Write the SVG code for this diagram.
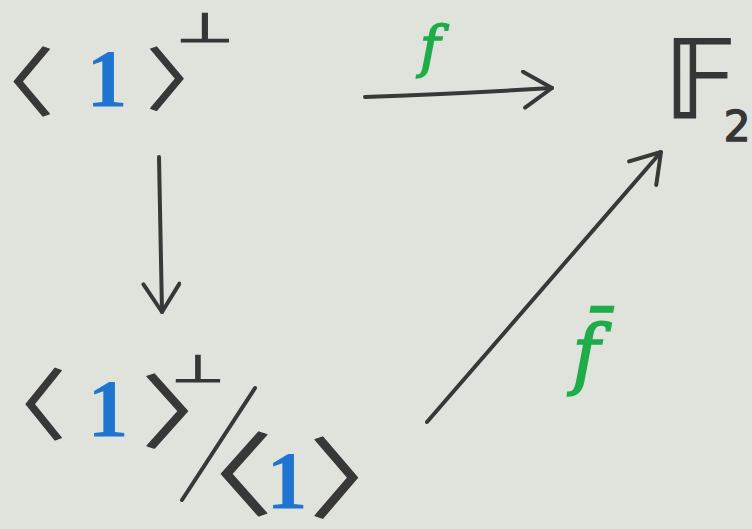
<svg xmlns="http://www.w3.org/2000/svg" width="752" height="529" viewBox="0 0 752 529">
<style>
.br{fill:#383838;font-family:"Noto Sans CJK JP",sans-serif;stroke:#383838;stroke-width:1.3;stroke-linejoin:round;font-feature-settings:"palt" 1}
.perp{fill:#363636;font-family:"DejaVu Sans",sans-serif;font-size:66px;stroke:#363636;stroke-width:2;text-anchor:middle}
.one{fill:#1f74d0;font-family:"Liberation Serif",serif;font-weight:bold;font-size:82px;text-anchor:middle}
.lab{fill:#1fac4a;font-family:"DejaVu Serif",serif;font-style:italic;text-anchor:middle;stroke:#1fac4a;stroke-width:1.5}
.edge{fill:none;stroke:#383838;stroke-width:4;stroke-linecap:round}
.head{fill:none;stroke:#383838;stroke-width:4;stroke-linecap:round;stroke-linejoin:round}
</style>
<defs>
<marker id="ah" viewBox="0 0 40 40" refX="38" refY="20" markerWidth="40" markerHeight="40" markerUnits="userSpaceOnUse" orient="auto">
<path class="head" d="M10,2 L38,20 L10,38"/>
</marker>
</defs>
<rect width="752" height="529" fill="#dfe3dc"/>
<g id="node-perp">
<text class="br" font-size="74" transform="translate(3.3,109) scale(1.31,1)">〈</text>
<text class="one" x="107" y="106">1</text>
<text class="br" font-size="68" transform="translate(148.5,104.6) scale(1.31,1)">〉</text>
<text class="perp" transform="translate(205,42) scale(1,0.62)">⊥</text>
</g>
<g id="node-F2">
<text x="700" y="118" fill="#363636" font-family="DejaVu Sans, sans-serif" font-size="108" text-anchor="middle" stroke="#363636" stroke-width="1.2">𝔽</text>
<text x="737" y="141" fill="#363636" font-family="DejaVu Sans, sans-serif" font-size="42" text-anchor="middle" stroke="#363636" stroke-width="1.5">2</text>
</g>
<g id="node-quot">
<text class="br" font-size="77" transform="translate(15.3,433.8) scale(1.26,1)">〈</text>
<text class="one" x="108" y="436">1</text>
<text class="br" font-size="79.5" transform="translate(144.4,440.6) scale(1.4,1)">〉</text>
<text class="perp" transform="translate(198,382) scale(0.92,0.58)">⊥</text>
<line class="edge" x1="182" y1="500" x2="255" y2="388"/>
<text class="br" font-size="90" transform="translate(207.5,507.8) scale(1.39,1)">〈</text>
<text class="one" x="287" y="508">1</text>
<text class="br" font-size="87" transform="translate(312.2,511) scale(1.34,1)">〉</text>
</g>
<g id="connectors">
<path class="edge" d="M365,97 Q450,94 552,88" marker-end="url(#ah)"/>
<path class="edge" d="M159,157 L162,312" marker-end="url(#ah)"/>
<path class="edge" d="M427,422 L661,152" marker-end="url(#ah)"/>
<text class="lab" x="430" y="66" font-size="56">f</text>
<text class="lab" x="586" y="380" font-size="76">f̄</text>
</g>
</svg>
